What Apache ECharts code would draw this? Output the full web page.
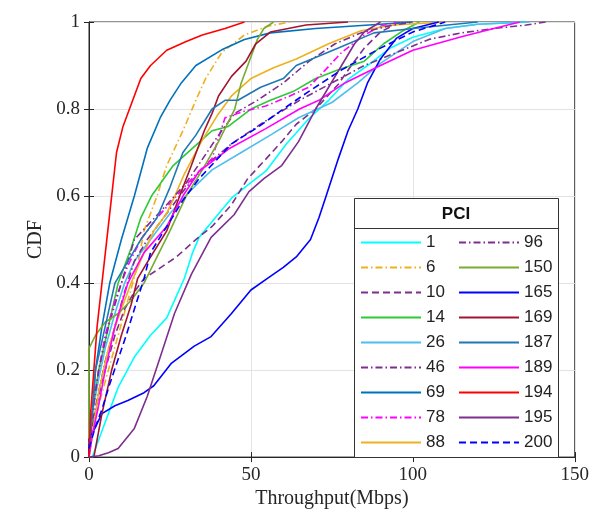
<!DOCTYPE html>
<html><head><meta charset="utf-8">
<script src="https://cdn.jsdelivr.net/npm/echarts@6/dist/echarts.min.js"></script>
<style>html,body{margin:0;padding:0;background:#fff}#c{width:592px;height:514px}</style>
</head><body><div id="c"></div>
<script>
// Tick labels / axis text
const xTicks = [0, 50, 100, 150];
const yTicks = [0, 0.2, 0.4, 0.6, 0.8, 1];
const xName = 'Throughput(Mbps)';
const yName = 'CDF';
const legendTitle = 'PCI';

// Series names (PCI)
const names = ['1','6','10','14','26','46','69','78','88','96','150','165','169','187','189','194','195','200'];

// CDF curves: [throughput (Mbps), CDF]
const pci1 = [[1,0],[3,0.04],[5,0.08],[7,0.12],[9,0.16],[14,0.23],[19,0.28],[24,0.32],[27,0.37],[29.4,0.41],[32,0.47],[34,0.505],[39,0.55],[44,0.595],[49,0.625],[54.6,0.657],[61,0.72],[67.8,0.777],[74,0.82],[80,0.868],[86,0.9],[93,0.94],[100,0.965],[110,0.985],[120,0.995],[135,1]];
const pci6 = [[0,0],[1,0.05],[3,0.12],[6,0.2],[9,0.28],[12,0.36],[15,0.44],[17,0.52],[21,0.6],[24,0.67],[29,0.75],[33,0.82],[36,0.87],[41,0.93],[48,0.97],[55,0.99],[62,1]];
const pci10 = [[0,0.02],[1,0.07],[3,0.14],[5,0.2],[8,0.28],[11,0.34],[14,0.38],[17,0.41],[21,0.43],[27,0.46],[33,0.5],[38,0.53],[44,0.58],[49,0.64],[54,0.68],[59.5,0.725],[64,0.765],[70,0.8],[77,0.857],[81,0.9],[85,0.94],[90,0.977],[96,1]];
const pci14 = [[0,0],[1,0.1],[3,0.2],[6,0.3],[9,0.4],[13,0.48],[16,0.55],[19.3,0.6],[26,0.67],[32,0.71],[38,0.75],[43,0.76],[50,0.8],[56,0.82],[63,0.84],[70,0.87],[77,0.89],[85,0.91],[91,0.95],[97,0.98],[102,1]];
const pci26 = [[0,0.05],[1,0.1],[3,0.18],[5,0.25],[8,0.33],[11,0.4],[14,0.45],[19,0.5],[25,0.56],[31,0.61],[38,0.66],[47,0.7],[56,0.74],[64.7,0.78],[75,0.815],[83,0.86],[90,0.905],[100,0.955],[110,0.985],[120,0.995],[136,1]];
const pci46 = [[0,0.02],[1,0.08],[3,0.15],[5,0.22],[8,0.3],[11,0.38],[14,0.45],[18,0.5],[24,0.56],[30,0.62],[36,0.67],[44,0.72],[54,0.77],[65,0.82],[75,0.86],[85,0.9],[95,0.93],[105,0.96],[115,0.975],[125,0.985],[135,0.993],[141,1]];
const pci69 = [[0,0.02],[1,0.1],[2,0.2],[4,0.3],[6.4,0.4],[10,0.5],[14,0.6],[18,0.71],[22,0.78],[25,0.82],[28.5,0.86],[33,0.9],[41,0.936],[48,0.96],[56,0.975],[70,0.985],[90,0.995],[100,1]];
const pci78 = [[0,0.02],[1,0.1],[3,0.2],[5,0.28],[8,0.36],[12,0.44],[16,0.5],[21,0.55],[27,0.6],[33,0.65],[38,0.686],[42,0.78],[48,0.795],[54.6,0.807],[62,0.83],[67.8,0.85],[73,0.89],[78,0.93],[85,0.97],[90,0.99],[95,1]];
const pci88 = [[0,0],[1,0.05],[3,0.15],[6,0.25],[9,0.32],[13,0.4],[17,0.47],[20,0.52],[24,0.56],[26.5,0.6],[29.4,0.65],[34.7,0.725],[39.6,0.785],[44,0.83],[50,0.87],[57,0.895],[64,0.915],[74,0.95],[84,0.98],[94,0.993],[110,1]];
const pci96 = [[0,0.02],[1,0.1],[3,0.2],[6,0.3],[10,0.4],[14,0.5],[19,0.54],[24,0.58],[30,0.63],[34.6,0.68],[40,0.74],[45,0.79],[52,0.82],[60,0.86],[68,0.91],[76,0.95],[84,0.975],[92,0.99],[100,1]];
const pci150 = [[0,0],[0,0.25],[2,0.28],[5,0.31],[9,0.33],[13,0.36],[17,0.4],[21,0.46],[25,0.52],[30,0.6],[35,0.66],[40,0.725],[45,0.8],[47,0.86],[49.5,0.91],[52,0.96],[54,0.985],[57,1]];
const pci165 = [[0,0],[0,0.04],[1.8,0.066],[4,0.1],[8,0.118],[12,0.13],[17,0.148],[20,0.164],[25.5,0.216],[32.5,0.255],[37.7,0.277],[44,0.33],[50,0.384],[55,0.41],[60,0.436],[64,0.46],[68.4,0.5],[71,0.55],[73,0.595],[77,0.686],[80,0.75],[83,0.8],[86,0.86],[90,0.915],[95,0.963],[100,0.985],[108,1]];
const pci169 = [[1.5,0],[4,0.1],[7,0.2],[10,0.28],[13,0.35],[15,0.41],[19,0.46],[24,0.52],[28,0.6],[31.6,0.67],[35.6,0.75],[38,0.79],[40,0.83],[44,0.875],[48.5,0.91],[51.5,0.95],[56,0.977],[67,0.993],[80,1]];
const pci187 = [[0,0.03],[1,0.1],[2,0.2],[5,0.3],[8,0.4],[12,0.45],[16,0.5],[21,0.55],[25,0.62],[29,0.7],[33,0.74],[38,0.8],[42,0.82],[46,0.82],[53,0.85],[60,0.87],[64,0.9],[77,0.94],[88,0.975],[100,0.985],[120,1]];
const pci189 = [[0,0],[1,0.05],[3,0.12],[5,0.2],[8,0.3],[12,0.4],[17,0.47],[24,0.53],[29,0.6],[34,0.657],[43.5,0.71],[54.6,0.755],[65,0.8],[71,0.82],[79,0.86],[90,0.9],[100,0.935],[115,0.966],[125,0.985],[133,1]];
const pci194 = [[0,0],[0.5,0.1],[1.5,0.2],[2.5,0.3],[4,0.4],[5.5,0.5],[7,0.6],[8.5,0.7],[10.5,0.76],[13.5,0.82],[16,0.87],[19,0.9],[24,0.935],[30,0.955],[35,0.97],[42,0.985],[48,1]];
const pci195 = [[0,0],[3,0.003],[6,0.01],[9,0.02],[14,0.066],[18,0.14],[22,0.23],[26.4,0.33],[31.6,0.42],[37.7,0.505],[44.8,0.557],[49.4,0.61],[54,0.64],[59.5,0.67],[64.7,0.725],[70,0.8],[74,0.85],[78,0.9],[82,0.95],[85,0.977],[90,1]];
const pci200 = [[0,0.02],[2,0.07],[4,0.11],[6.5,0.17],[9,0.225],[11.5,0.28],[14,0.34],[17,0.41],[19,0.47],[24,0.53],[29,0.59],[34,0.64],[39,0.68],[44,0.72],[52.5,0.76],[60,0.8],[67.8,0.84],[78,0.89],[90,0.94],[100,0.977],[110,1]];

const curves = [pci1,pci6,pci10,pci14,pci26,pci46,pci69,pci78,pci88,pci96,pci150,pci165,pci169,pci187,pci189,pci194,pci195,pci200];

const DASH = [7,4];
const DASHDOT = [7,3,1.5,3];
const styles = [
  ['#00ffff','solid'],['#EDB120',DASHDOT],['#7E2F8E',DASH],['#2dc937','solid'],
  ['#4DBEEE','solid'],['#7E2F8E',DASHDOT],['#0072BD','solid'],['#FF00FF',DASHDOT],
  ['#EDB120','solid'],['#7E2F8E',DASHDOT],['#77AC30','solid'],['#0000FF','solid'],
  ['#A2142F','solid'],['#1f78b4','solid'],['#FF00FF','solid'],['#FF0000','solid'],
  ['#7E2F8E','solid'],['#0000FF',DASH]
];

const series = names.map((n,i)=>({
  name:n, type:'line', data:curves[i], symbol:'none', smooth:false, z:2,
  lineStyle:{color:styles[i][0], width:1.6, type:styles[i][1]},
  itemStyle:{color:styles[i][0]}
}));

const serif = 'Liberation Serif';
const axisCol = '#262626';
const chart = echarts.init(document.getElementById('c'), null, {renderer:'canvas'});
const legendCommon = {
  orient:'vertical', itemWidth:60, itemHeight:14, itemGap:8, top:234, padding:0,
  itemStyle:{opacity:0},
  textStyle:{fontFamily:'Liberation Sans', fontSize:17, color:'#222'},
  selectedMode:false, z:5
};
chart.setOption({
  animation:false,
  grid:{left:89, right:14, top:22, bottom:52, show:true, borderColor:axisCol, borderWidth:1, backgroundColor:'transparent'},
  xAxis:[{
    type:'value', min:0, max:150, interval:50,
    name:xName, nameLocation:'middle', nameGap:30,
    nameTextStyle:{fontFamily:serif, fontSize:20, color:axisCol},
    axisLine:{show:true, lineStyle:{color:axisCol}},
    axisTick:{show:true, inside:true, length:5, lineStyle:{color:axisCol}},
    axisLabel:{fontFamily:serif, fontSize:19, color:axisCol, margin:8, formatter:v=>xTicks.includes(v)?String(v):''},
    splitLine:{show:true, lineStyle:{color:'#e3e3e3'}}
  },{
    type:'value', min:0, max:150, interval:50, position:'top',
    axisLine:{show:true, lineStyle:{color:axisCol}},
    axisTick:{show:true, inside:true, length:5, lineStyle:{color:axisCol}},
    axisLabel:{show:false}, splitLine:{show:false}
  }],
  yAxis:[{
    type:'value', min:0, max:1, interval:0.2,
    name:yName, nameLocation:'middle', nameGap:42,
    nameTextStyle:{fontFamily:serif, fontSize:20, color:axisCol},
    axisLine:{show:true, lineStyle:{color:axisCol}},
    axisTick:{show:true, inside:true, length:5, lineStyle:{color:axisCol}},
    axisLabel:{fontFamily:serif, fontSize:19, color:axisCol, margin:9, formatter:v=>{const t=yTicks.find(k=>Math.abs(k-v)<1e-9);return t===undefined?'':String(t);}},
    splitLine:{show:true, lineStyle:{color:'#e3e3e3'}}
  },{
    type:'value', min:0, max:1, interval:0.2, position:'right',
    axisLine:{show:true, lineStyle:{color:axisCol}},
    axisTick:{show:true, inside:true, length:5, lineStyle:{color:axisCol}},
    axisLabel:{show:false}, splitLine:{show:false}
  }],
  legend:[
    Object.assign({}, legendCommon, {left:360, data:names.slice(0,9)}),
    Object.assign({}, legendCommon, {left:458, data:names.slice(9)})
  ],
  graphic:[
    {type:'rect', z:3, shape:{x:354.5, y:198.5, width:204, height:259}, style:{fill:'#fff', stroke:'#333', lineWidth:1}},
    {type:'line', z:3, shape:{x1:354.5, y1:228.5, x2:558.5, y2:228.5}, style:{stroke:'#333', lineWidth:1}},
    {type:'text', z:4, x:456, y:214, style:{text:legendTitle, font:'bold 17px "Liberation Sans"', fill:'#111', textAlign:'center', textVerticalAlign:'middle'}}
  ],
  series:series
});
</script></body></html>
